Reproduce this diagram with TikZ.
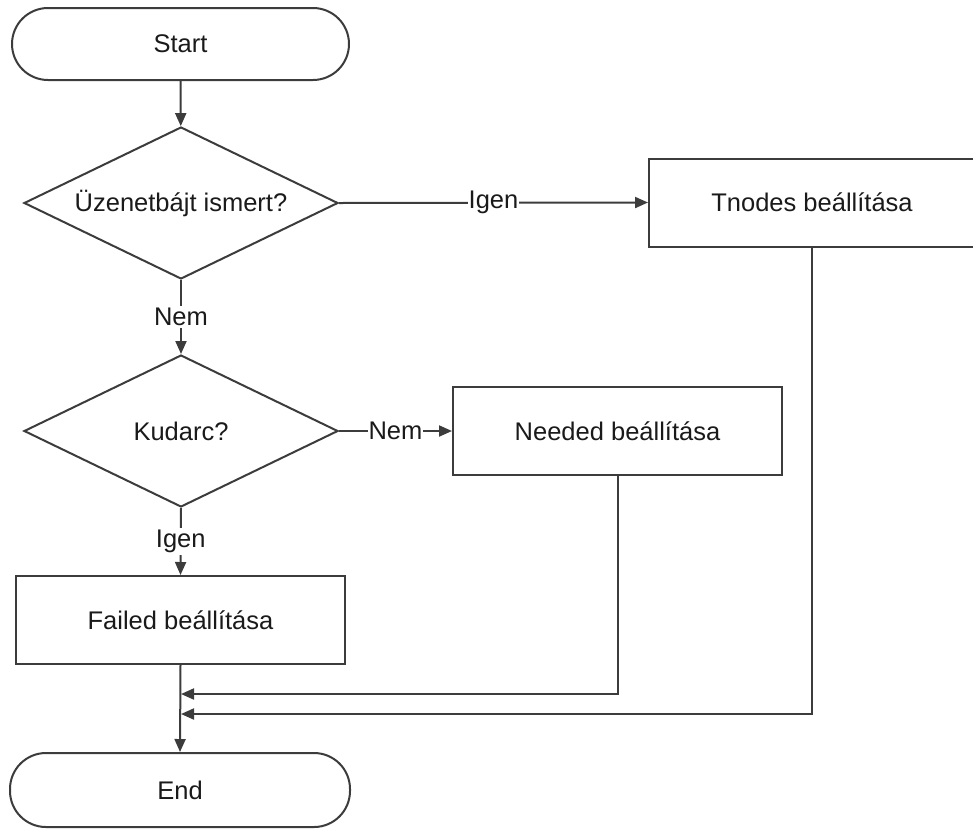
\documentclass[tikz,border=0pt]{standalone}
\usepackage{fontspec}
\setmainfont{Liberation Sans}
\usetikzlibrary{shapes.geometric,arrows.meta}
\definecolor{linec}{HTML}{3C3C3C}
\definecolor{textc}{HTML}{1A1A1A}
\begin{document}
\begin{tikzpicture}[x=1pt,y=-1pt,
  every node/.style={font=\fontsize{25.5}{30}\selectfont, text=textc},
  base/.style={draw=linec, line width=2pt, fill=white, inner sep=0pt},
  term/.style={base, rectangle, rounded corners=36pt, minimum width=337pt, minimum height=72pt},
  procbox/.style={base, rectangle, minimum height=88pt},
  decision/.style={base, diamond, aspect=2.07, minimum width=314pt, minimum height=152pt},
  conn/.style={draw=linec, line width=2pt, -{Triangle[length=13pt,width=11pt]}},
  lbl/.style={fill=white, inner xsep=1pt, inner ysep=2pt}]
\useasboundingbox (0,0) rectangle (973,828);

\node[term] (start) at (180.5,44) {Start};
\node[decision] (d1) at (181,203) {Üzenetbájt ismert?};
\node[procbox, minimum width=326pt] (tnodes) at (812,202.5) {Tnodes beállítása};
\node[decision] (d2) at (181,431) {Kudarc?};
\node[procbox, minimum width=329pt] (needed) at (617.5,431) {Needed beállítása};
\node[procbox, minimum width=329pt] (failed) at (180.5,620) {Failed beállítása};
\node[term, minimum width=340pt, minimum height=74pt] (end) at (180,790) {End};

\coordinate (j1) at (181,694);
\coordinate (j2) at (181,714);

\draw[conn] (start) -- (d1);
\draw[conn] (d1.east) -- node[lbl] {Igen} (tnodes.west);
\draw[conn] (d1.south) -- node[lbl] {Nem} (d2.north);
\draw[conn] (d2.east) -- node[lbl] {Nem} (needed.west);
\draw[conn] (d2.south) -- node[lbl] {Igen} (failed.north);
\draw[conn] (failed.south) -- (end.north);
\draw[conn] (needed.south) |- (j1);
\draw[conn] (tnodes.south) |- (j2);
\end{tikzpicture}
\end{document}
